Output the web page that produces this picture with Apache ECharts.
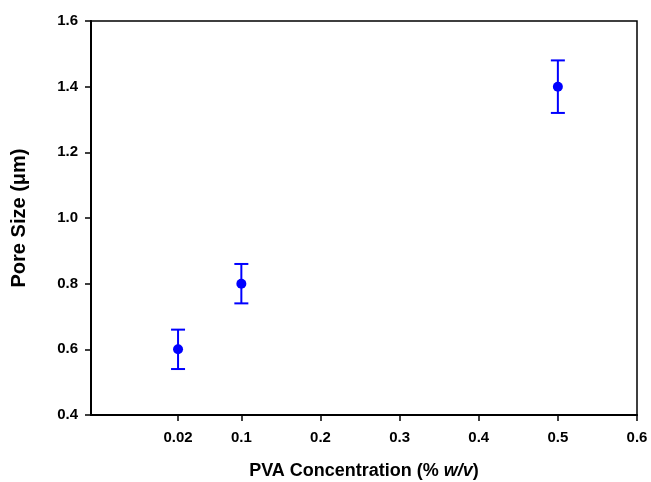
<!DOCTYPE html>
<html><head><meta charset="utf-8">
<script src="https://cdn.jsdelivr.net/npm/echarts@6/dist/echarts.min.js"></script>
<style>html,body{margin:0;padding:0;background:#fff}#c{width:651px;height:482px}</style>
</head><body><div id="c"></div>
<script>
var concentrations = [0.02, 0.1, 0.5];
var poreSize = [0.6, 0.8, 1.4];
var errLow = [0.54, 0.74, 1.32];
var errHigh = [0.66, 0.86, 1.48];
var xTicks = [0.02, 0.1, 0.2, 0.3, 0.4, 0.5, 0.6];
var yTicks = [0.4, 0.6, 0.8, 1.0, 1.2, 1.4, 1.6];

var FONT = '"Liberation Sans", Arial, sans-serif';
var chart = echarts.init(document.getElementById('c'), null, {renderer: 'canvas'});
var pts = concentrations.map(function (x, i) { return [x, poreSize[i]]; });
var errs = concentrations.map(function (x, i) { return [x, errLow[i], errHigh[i]]; });

chart.setOption({
  animation: false,
  backgroundColor: '#fff',
  grid: {left: 91, right: 14, top: 21, bottom: 67, containLabel: false, outerBoundsMode: 'none',
    show: true, borderColor: '#000', borderWidth: 1.5},
  xAxis: {
    type: 'value', min: -0.09, max: 0.6,
    name: '{b|PVA Concentration (% }{i|w/v}{b|)}',
    nameLocation: 'middle', nameGap: 47,
    nameTextStyle: {rich: {
      b: {fontFamily: FONT, fontWeight: 'bold', fontSize: 18, color: '#000'},
      i: {fontFamily: FONT, fontWeight: 'bold', fontStyle: 'italic', fontSize: 18, color: '#000'}
    }},
    splitLine: {show: false},
    axisLine: {show: true, onZero: false, lineStyle: {color: '#000', width: 2}},
    axisTick: {show: true, inside: false, length: 6, lineStyle: {color: '#000', width: 1.5}, customValues: xTicks},
    axisLabel: {show: true, margin: 15, fontFamily: FONT, fontWeight: 'bold', fontSize: 15, color: '#000',
      customValues: xTicks,
      formatter: function (v) { return String(Math.round(v * 100) / 100); }}
  },
  yAxis: {
    type: 'value', min: 0.4, max: 1.6, interval: 0.2,
    name: 'Pore Size (\u03bcm)', nameLocation: 'middle', nameGap: 62, nameRotate: 90,
    nameTextStyle: {fontFamily: FONT, fontWeight: 'bold', fontSize: 20, color: '#000'},
    splitLine: {show: false},
    axisLine: {show: true, onZero: false, lineStyle: {color: '#000', width: 2}},
    axisTick: {show: true, inside: false, length: 6, lineStyle: {color: '#000', width: 1.5}, customValues: yTicks},
    axisLabel: {margin: 13, fontFamily: FONT, fontWeight: 'bold', fontSize: 15, color: '#000',
      customValues: yTicks,
      formatter: function (v) { return v.toFixed(1); }}
  },
  series: [
    {
      type: 'custom',
      data: errs,
      z: 2,
      renderItem: function (params, api) {
        var x = api.value(0);
        var lo = api.coord([x, api.value(1)]);
        var hi = api.coord([x, api.value(2)]);
        var w = 7;
        var st = {stroke: '#0000ff', lineWidth: 2, fill: null};
        return {type: 'group', children: [
          {type: 'line', shape: {x1: lo[0], y1: lo[1], x2: hi[0], y2: hi[1]}, style: st},
          {type: 'line', shape: {x1: lo[0] - w, y1: lo[1], x2: lo[0] + w, y2: lo[1]}, style: st},
          {type: 'line', shape: {x1: hi[0] - w, y1: hi[1], x2: hi[0] + w, y2: hi[1]}, style: st}
        ]};
      }
    },
    {
      type: 'scatter',
      data: pts,
      symbol: 'circle',
      symbolSize: 10,
      z: 3,
      itemStyle: {color: '#0000ff', opacity: 1}
    }
  ]
});
</script></body></html>
